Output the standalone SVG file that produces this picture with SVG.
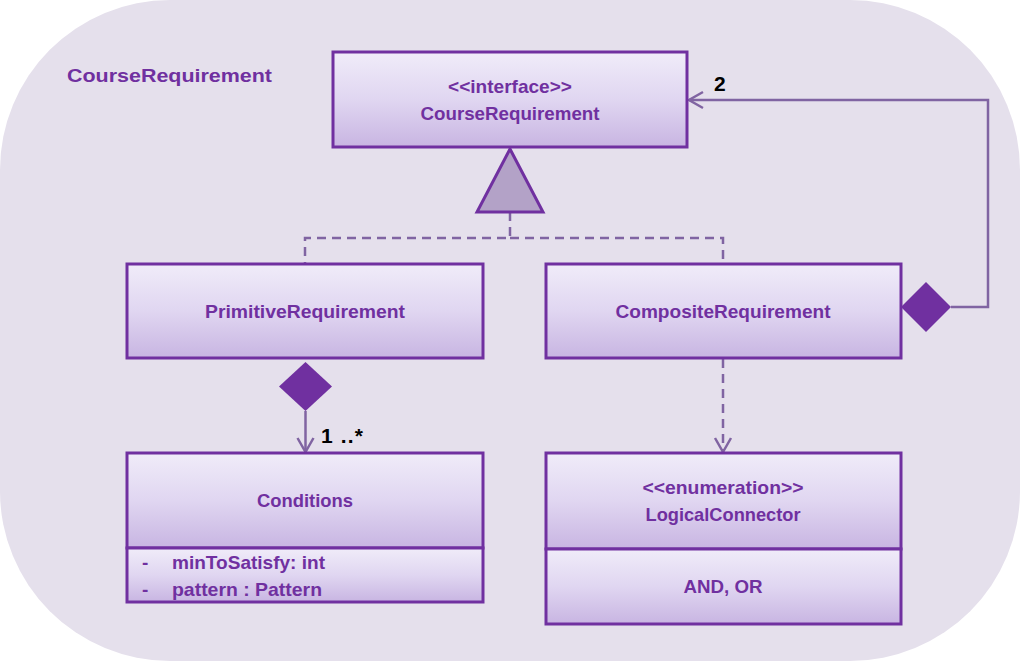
<svg xmlns="http://www.w3.org/2000/svg" width="1020" height="661" viewBox="0 0 1020 661">
<defs>
<linearGradient id="boxg" x1="0" y1="0" x2="0" y2="1">
<stop offset="0" stop-color="#F0ECF9"/>
<stop offset="0.5" stop-color="#E0D6F1"/>
<stop offset="1" stop-color="#C8B5E2"/>
</linearGradient>
<marker id="open" viewBox="0 0 20 20" refX="17" refY="10" markerWidth="20" markerHeight="20" markerUnits="userSpaceOnUse" orient="auto">
<path d="M3,2 L17,10 L3,18" fill="none" stroke="#8064A2" stroke-width="2.5"/>
</marker>
</defs>
<style>
.box{fill:url(#boxg);stroke:#7030A0;stroke-width:3}
.t{font-family:"Liberation Sans",Arial,sans-serif;font-weight:bold;fill:#7030A0;font-size:19px;text-anchor:middle}
.a{font-family:"Liberation Sans",Arial,sans-serif;font-weight:bold;fill:#7030A0;font-size:19px}
.lbl{font-family:"Liberation Sans",Arial,sans-serif;font-weight:bold;fill:#000;font-size:21px}
.c{fill:none;stroke:#8064A2;stroke-width:2.5}
.d{fill:none;stroke:#8064A2;stroke-width:2.5;stroke-dasharray:9 6}
.dia{fill:#7030A0}
</style>
<rect x="0" y="0" width="1020" height="661" fill="#fff"/>
<rect id="package" x="0" y="0" width="1020" height="661" rx="170" ry="170" fill="#E5E0EC"/>
<text class="a" x="67" y="82" font-size="21" textLength="205" lengthAdjust="spacingAndGlyphs">CourseRequirement</text>

<g id="connectors">
<polyline class="d" points="510,212 510,238 305,238 305,264"/>
<polyline class="d" points="510,238 723,238 723,264"/>
<polyline class="c" points="951,307 988,307 988,100 689,100" marker-end="url(#open)"/>
<polygon class="dia" points="901,307 926,282 951,307 926,332"/>
<line class="c" x1="305.5" y1="411" x2="305.5" y2="452" marker-end="url(#open)"/>
<polygon class="dia" points="279,386.5 305.5,362 332,386.5 305.5,411"/>
<line class="d" x1="723" y1="359" x2="723" y2="452" marker-end="url(#open)"/>
<text class="lbl" x="714" y="91">2</text>
<text class="lbl" x="321" y="443" textLength="42" lengthAdjust="spacing">1 ..*</text>
</g>

<g id="CourseRequirement">
<rect class="box" x="333" y="52" width="354" height="95"/>
<text class="t" x="510" y="93" textLength="124" lengthAdjust="spacingAndGlyphs">&lt;&lt;interface&gt;&gt;</text>
<text class="t" x="510" y="120" textLength="179" lengthAdjust="spacingAndGlyphs">CourseRequirement</text>
<polygon points="510,149 543,212 477,212" fill="#B3A2C7" stroke="#7030A0" stroke-width="3"/>
</g>

<g id="PrimitiveRequirement">
<rect class="box" x="127" y="264" width="356" height="94"/>
<text class="t" x="305" y="318" textLength="200" lengthAdjust="spacingAndGlyphs">PrimitiveRequirement</text>
</g>

<g id="CompositeRequirement">
<rect class="box" x="546" y="264" width="355" height="94"/>
<text class="t" x="723" y="318" textLength="215" lengthAdjust="spacingAndGlyphs">CompositeRequirement</text>
</g>

<g id="Conditions">
<rect class="box" x="127" y="453" width="356" height="95"/>
<rect class="box" x="127" y="548" width="356" height="54"/>
<text class="t" x="305" y="507" textLength="96" lengthAdjust="spacingAndGlyphs">Conditions</text>
<text class="a" x="142" y="569">-</text>
<text class="a" x="172" y="569" textLength="153" lengthAdjust="spacingAndGlyphs">minToSatisfy: int</text>
<text class="a" x="142" y="596">-</text>
<text class="a" x="172" y="596" textLength="150" lengthAdjust="spacingAndGlyphs">pattern : Pattern</text>
</g>

<g id="LogicalConnector">
<rect class="box" x="546" y="453" width="355" height="96"/>
<rect class="box" x="546" y="549" width="355" height="75"/>
<text class="t" x="723" y="494" textLength="161" lengthAdjust="spacingAndGlyphs">&lt;&lt;enumeration&gt;&gt;</text>
<text class="t" x="723" y="521" textLength="155" lengthAdjust="spacingAndGlyphs">LogicalConnector</text>
<text class="t" x="723" y="593" textLength="79" lengthAdjust="spacingAndGlyphs">AND, OR</text>
</g>
</svg>
